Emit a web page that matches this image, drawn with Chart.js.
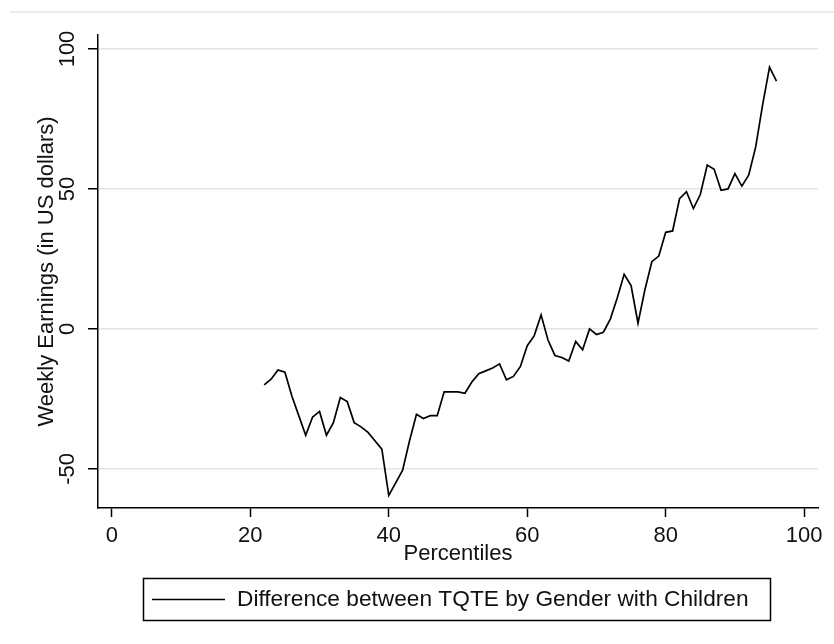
<!DOCTYPE html>
<html lang="en">
  <head>
    <meta charset="UTF-8" />
    <title>TQTE difference by percentile</title>
    <style>
      html, body { margin: 0; padding: 0; background: #fff; }
      .chart-wrapper { width: 834px; height: 644px; position: relative; }
    </style>
  </head>
  <body>
    <div class="chart-wrapper">
      <canvas id="chartLine"></canvas>
    </div>
    <script src="https://cdn.jsdelivr.net/npm/chart.js"></script>
    <script>
      const percentiles = [
        22, 23, 24, 25, 26, 27, 28, 29, 30, 31, 32, 33, 34, 35, 36, 37, 38, 39,
        40, 41, 42, 43, 44, 45, 46, 47, 48, 49, 50, 51, 52, 53, 54, 55, 56, 57,
        58, 59, 60, 61, 62, 63, 64, 65, 66, 67, 68, 69, 70, 71, 72, 73, 74, 75,
        76, 77, 78, 79, 80, 81, 82, 83, 84, 85, 86, 87, 88, 89, 90, 91, 92, 93,
        94, 95, 96,
      ];
      const difference = [
        -20, -18, -14.7, -15.5, -24, -31, -38, -31.5, -29.5, -38, -33.5, -24.5,
        -26, -33.5, -35, -37, -40, -43, -59.5, -55, -50.5, -40, -30.5, -32, -31,
        -31, -22.5, -22.5, -22.5, -23, -19, -16, -15, -14, -12.5, -18.2, -17,
        -13.5, -6, -2.5, 5, -4, -9.5, -10.2, -11.5, -4.5, -7.5, 0, -2, -1.2, 3.5,
        11, 19.5, 15.5, 2, 14, 24, 26, 34.5, 35, 46.5, 49, 43, 48, 58.5, 57, 49.5,
        50, 55.5, 51, 55, 65, 80, 93.5, 88.5,
      ];
      const xTicks = [0, 20, 40, 60, 80, 100];
      const yTicks = [-50, 0, 50, 100];
      const seriesLabel = "Difference between TQTE by Gender with Children";
      const xTitle = "Percentiles";
      const yTitle = "Weekly Earnings (in US dollars)";

      const FONT = "'Liberation Sans', Arial, sans-serif";
      Chart.defaults.font.family = FONT;
      Chart.defaults.font.size = 22;
      Chart.defaults.color = "#111";

      // stata-ish frame: faint top rule + boxed legend under the axis
      const stataFrame = {
        id: "stataFrame",
        beforeDraw(chart) {
          const ctx = chart.ctx;
          ctx.save();
          ctx.strokeStyle = "#ebebeb";
          ctx.lineWidth = 2;
          ctx.beginPath();
          ctx.moveTo(10, 12);
          ctx.lineTo(834, 12);
          ctx.stroke();
          ctx.restore();
        },
        afterDraw(chart) {
          const ctx = chart.ctx;
          const ds = chart.data.datasets[0];
          ctx.save();
          ctx.strokeStyle = "#000";
          ctx.lineWidth = 1.5;
          ctx.strokeRect(143.5, 578.5, 627, 42);
          ctx.beginPath();
          ctx.moveTo(152, 599.5);
          ctx.lineTo(225, 599.5);
          ctx.lineWidth = 1.5;
          ctx.stroke();
          ctx.fillStyle = "#111";
          ctx.font = "22.7px " + FONT;
          ctx.textBaseline = "middle";
          ctx.textAlign = "left";
          ctx.fillText(ds.label, 237, 600);
          ctx.restore();
        },
      };

      new Chart(document.getElementById("chartLine"), {
        type: "line",
        data: {
          datasets: [
            {
              label: seriesLabel,
              data: percentiles.map((p, i) => ({ x: p, y: difference[i] })),
              borderColor: "#000",
              borderWidth: 1.7,
              pointRadius: 0,
              tension: 0,
              fill: false,
            },
          ],
        },
        options: {
          responsive: true,
          maintainAspectRatio: false,
          animation: false,
          layout: { padding: { left: 0, right: 16, top: 35, bottom: 77 } },
          scales: {
            x: {
              type: "linear",
              min: -2,
              max: 102,
              afterBuildTicks: (scale) => {
                scale.ticks = xTicks.map((v) => ({ value: v }));
              },
              afterFit: (scale) => {
                scale.height = 59;
              },
              grid: {
                drawOnChartArea: false,
                drawTicks: true,
                tickLength: 9,
                tickColor: "#000",
                tickWidth: 1.5,
              },
              border: { display: true, color: "#000", width: 1.5 },
              ticks: { padding: 6, maxRotation: 0, autoSkip: false },
              title: {
                display: true,
                text: xTitle,
                padding: { top: 0, bottom: 0 },
              },
            },
            y: {
              min: -64,
              max: 105,
              afterBuildTicks: (scale) => {
                scale.ticks = yTicks.map((v) => ({ value: v }));
              },
              afterFit: (scale) => {
                scale.width = 98;
              },
              grid: {
                color: "#e3e3e3",
                lineWidth: 1.5,
                drawTicks: true,
                tickLength: 10,
                tickColor: "#000",
                tickWidth: 1.5,
              },
              border: { display: true, color: "#000", width: 1.5 },
              ticks: {
                minRotation: 90,
                maxRotation: 90,
                crossAlign: "center",
                padding: 2,
                autoSkip: false,
              },
              title: {
                display: true,
                text: yTitle,
                padding: { top: 34, bottom: 0 },
              },
            },
          },
          plugins: {
            legend: { display: false },
            tooltip: { enabled: false },
          },
        },
        plugins: [stataFrame],
      });
    </script>
  </body>
</html>
